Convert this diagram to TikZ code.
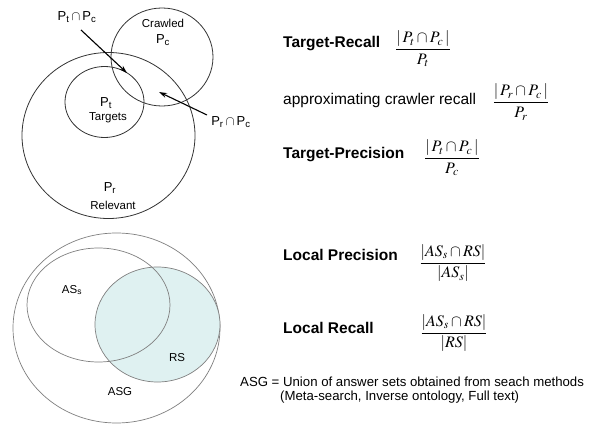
\documentclass[tikz,border=0pt]{standalone}
\usepackage{amsmath}
\usepackage{mathptmx}
\usepackage{fontspec}
\setmainfont{Liberation Sans}
\usetikzlibrary{arrows.meta}
\definecolor{rsfill}{HTML}{DFF1F1}
\begin{document}
\begin{tikzpicture}[x=1pt,y=-1pt,
  topset/.style={draw=black!80,line width=0.8pt},
  botset/.style={draw=black!50,line width=0.7pt},
  lbl/.style={inner sep=0pt,font=\fontsize{11.5}{13}\selectfont},
  plbl/.style={inner sep=0pt,font=\fontsize{13}{15}\selectfont},
  head/.style={inner sep=0pt,anchor=west,font=\fontsize{15.5}{18}\selectfont\bfseries},
  plain/.style={inner sep=0pt,anchor=west,font=\fontsize{15.5}{18}\selectfont},
  frac/.style={inner sep=0pt,font=\fontsize{16}{19}\selectfont},
  note/.style={inner sep=0pt,anchor=west,font=\fontsize{13.2}{16}\selectfont},
  arr/.style={line width=1.1pt,-{Stealth[length=8pt,width=5pt]}}]
\useasboundingbox[fill=white] (0,0) rectangle (605,425);
% top diagram
\draw[topset] (108.5,135.5) ellipse [x radius=86.5,y radius=83];
\draw[topset] (162,57) ellipse [x radius=51,y radius=49];
\draw[topset] (104.5,102) ellipse [x radius=39.5,y radius=35.5];
\node[plbl] (ptpc) at (77,17) {P\textsubscript{t}\,$\cap$\,P\textsubscript{c}};
\node[plbl] (prpc) at (231,122) {P\textsubscript{r}\,$\cap$\,P\textsubscript{c}};
\coordinate (tip1) at (127,73);
\coordinate (tip2) at (159,92);
\draw[arr] (81,30) -- (tip1);
\draw[arr] (207,115) -- (tip2);
\node[lbl] (crawled) at (163,23) {Crawled};
\node[plbl] (pc) at (163,40) {P\textsubscript{c}};
\node[plbl] (pt) at (106,103) {P\textsubscript{t}};
\node[lbl] (targets) at (108,118) {Targets};
\node[plbl] (pr) at (110,188) {P\textsubscript{r}};
\node[lbl] (relevant) at (113,205) {Relevant};
% right formulas
\node[head] (tr) at (283,44) {Target-Recall};
\node[frac] (trf) at (423,49) {$\dfrac{|\,P_t\cap P_c\,|}{P_t}$};
\node[plain] (acr) at (283,100) {approximating crawler recall};
\node[frac] (acrf) at (521,102) {$\dfrac{|\,P_r\cap P_c\,|}{P_r}$};
\node[head] (tp) at (283,155) {Target-Precision};
\node[frac] (tpf) at (452,158) {$\dfrac{|\,P_t\cap P_c\,|}{P_c}$};
% bottom diagram
\draw[botset] (116.5,328) ellipse [x radius=103.5,y radius=95];
\draw[botset,fill=rsfill] (157.5,324.5) ellipse [x radius=62.5,y radius=57.5];
\draw[botset] (98.5,305) ellipse [x radius=71.5,y radius=57];
\node[lbl] (ass) at (72,290) {AS\textsubscript{s}};
\node[lbl] (rs) at (177,358) {RS};
\node[lbl] (asg) at (120,392) {ASG};
\node[head] (lp) at (283,255) {Local Precision};
\node[frac] (lpf) at (453,263) {$\dfrac{|AS_s\cap RS|}{|AS_s|}$};
\node[head] (lr) at (283,328) {Local Recall};
\node[frac] (lrf) at (454,333) {$\dfrac{|AS_s\cap RS|}{|RS|}$};
\node[note] (n1) at (240,382) {ASG = Union of answer sets obtained from seach methods};
\node[note] (n2) at (280,397) {(Meta-search, Inverse ontology, Full text)};
\end{tikzpicture}
\end{document}
